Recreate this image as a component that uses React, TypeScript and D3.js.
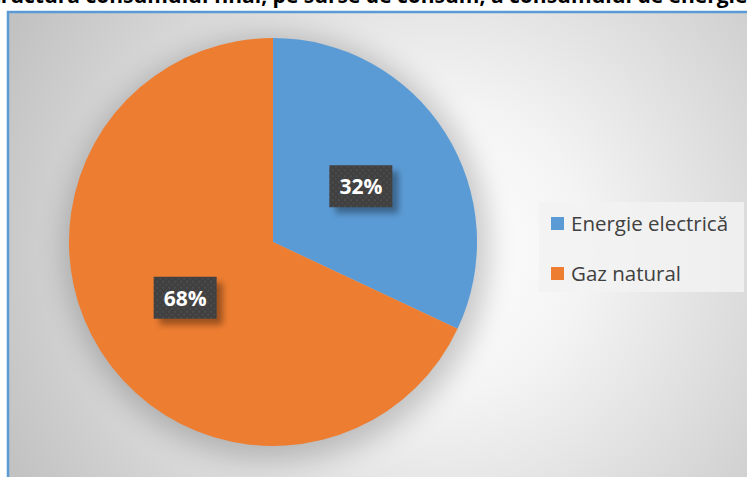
import React from "react";
import * as d3 from "d3";

const categories = ["Energie electrică", "Gaz natural"];
const values = [32, 68];
const colors = ["#5B9BD5", "#ED7D31"];
const titleText = "Structura consumului final, pe surse de consum, a consumului de energie pe tipuri de surse";

const W = 747;
const H = 477;

export default function App() {
  const cx = 273;
  const cy = 242;
  const r = 204;
  const pie = d3.pie<number>().sort(null).value((d) => d)(values);
  const arc = d3.arc<d3.PieArcDatum<number>>().innerRadius(0).outerRadius(r);
  const labelArc = d3.arc<d3.PieArcDatum<number>>().innerRadius(r * 0.51).outerRadius(r * 0.51);
  const total = d3.sum(values);
  const fmt = (v: number) => `${Math.round((v / total) * 100)}%`;

  return (
    <svg width={W} height={H} style={{ position: "absolute", left: 0, top: 0 }} xmlns="http://www.w3.org/2000/svg">
      <defs>
        <radialGradient id="bg" gradientUnits="userSpaceOnUse" cx={440} cy={250} r={480}>
          <stop offset="0" stopColor="#ffffff" />
          <stop offset="0.3" stopColor="#f4f4f4" />
          <stop offset="1" stopColor="#c2c2c2" />
        </radialGradient>
        <filter id="pieShadow" x="-30%" y="-30%" width="160%" height="160%">
          <feGaussianBlur stdDeviation="14" />
        </filter>
        <filter id="boxShadow" x="-40%" y="-40%" width="180%" height="180%">
          <feGaussianBlur stdDeviation="3" />
        </filter>
        <pattern id="dots" width="6" height="6" patternUnits="userSpaceOnUse">
          <rect width="6" height="6" fill="#404040" />
          <rect x="1" y="1" width="2" height="2" fill="#4d4d4d" />
          <rect x="4" y="4" width="2" height="2" fill="#4a4a4a" />
        </pattern>
        <clipPath id="frameClip">
          <rect x={9} y={13} width={W} height={H} />
        </clipPath>
      </defs>
      <rect x={0} y={0} width={W} height={H} fill="#ffffff" />
      <text x={-20} y={3} fontFamily="'Open Sans', sans-serif" fontWeight={700} fontSize={21} fill="#000">
        {titleText}
      </text>
      <g clipPath="url(#frameClip)">
        <rect x={9} y={13} width={W} height={H} fill="url(#bg)" />
        <circle cx={cx + 4} cy={cy + 6} r={r + 8} fill="#000" opacity={0.2} filter="url(#pieShadow)" />
      </g>
      <rect x={8} y={12} width={W + 10} height={H + 10} fill="none" stroke="#5B9BD5" strokeWidth={2.5} />
      <g transform={`translate(${cx},${cy})`}>
        {pie.map((p, i) => (
          <path key={categories[i]} d={arc(p) || ""} fill={colors[i]} />
        ))}
        {pie.map((p, i) => {
          const [lx, ly] = labelArc.centroid(p);
          const bw = 63;
          const bh = 42;
          return (
            <g key={`l${i}`} transform={`translate(${lx},${ly})`}>
              <rect x={-bw / 2 + 6} y={-bh / 2 + 6} width={bw} height={bh} fill="#000" opacity={0.35} filter="url(#boxShadow)" />
              <rect x={-bw / 2} y={-bh / 2} width={bw} height={bh} fill="url(#dots)" />
              <text x={0} y={8} textAnchor="middle" fontFamily="'Open Sans', sans-serif" fontWeight={700} fontSize={21} fill="#ffffff">
                {fmt(values[i])}
              </text>
            </g>
          );
        })}
      </g>
      <g>
        <rect x={539} y={202} width={205} height={90} fill="#f2f2f2" opacity={0.85} />
        {categories.map((c, i) => (
          <g key={c} transform={`translate(551,${217 + i * 50})`}>
            <rect x={0} y={0} width={13} height={13} fill={colors[i]} />
            <text x={20} y={14} fontFamily="'Open Sans', sans-serif" fontSize={20.5} fill="#404040">
              {c}
            </text>
          </g>
        ))}
      </g>
    </svg>
  );
}
